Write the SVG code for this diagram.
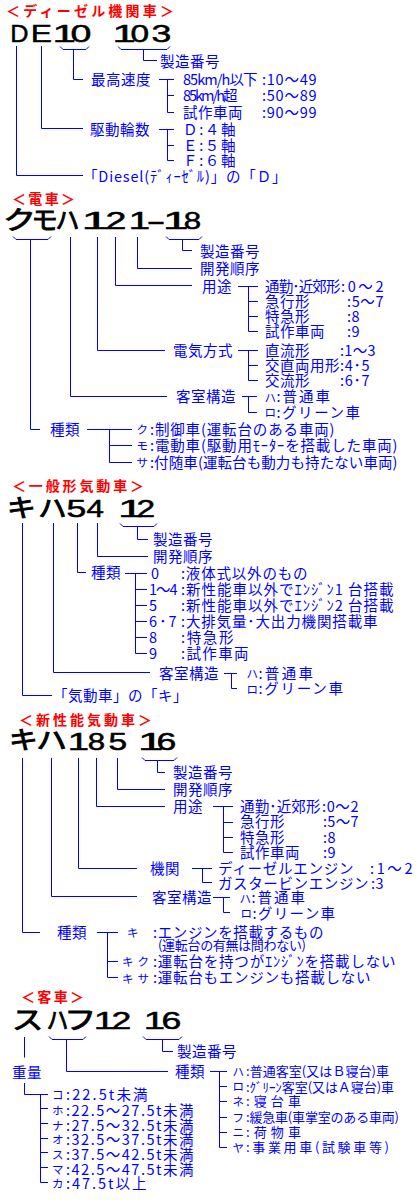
<svg xmlns="http://www.w3.org/2000/svg" width="420" height="1200" viewBox="0 0 420 1200">
<style>
.t{font-family:"Noto Sans CJK JP",sans-serif;font-size:14.5px;letter-spacing:.5px;fill:#00f}
.sm{font-size:13px;letter-spacing:0}
.key{font-size:11.5px;letter-spacing:0}
.ttl{font-family:"Noto Sans CJK JP",sans-serif;font-size:14px;font-weight:bold;fill:#f00}
.lat{font-family:"Liberation Sans",sans-serif;font-size:24px;fill:#000;stroke:#000;stroke-width:.5}
.lat2{font-family:"Liberation Sans",sans-serif;font-size:23px;fill:#000;stroke:#000;stroke-width:.5}
.kat{font-family:"Noto Sans CJK JP",sans-serif;font-size:25px;fill:#000;stroke:#000;stroke-width:.9}
.ln{fill:none;stroke:#00f;stroke-width:1}
</style>
<rect width="420" height="1200" fill="#fff"/>

<g id="connectors" class="ln">
<path d="M60,46.5 L63,49.5 H86 L89,46.5 M73.5,49.5 V79.5 H83"/>
<path d="M118,46.5 L121,49.5 H167 L170,46.5 M143.5,49.5 V60.5 H157"/>
<path d="M16.5,46 V175.5 H83"/>
<path d="M41.5,46 V128.5 H83"/>
<path d="M159,79.5 H174 M167.5,79.5 V112.5 H174 M167.5,95.5 H174"/>
<path d="M159,129.5 H174 M167.5,129.5 V160.5 H174 M167.5,145.5 H174"/>
<path d="M13,236.5 L16,239.5 H48 L51,236.5 M30.5,239.5 V429.5 H40"/>
<path d="M70.5,237 V396.5 H167"/>
<path d="M97.5,237 V350.5 H165"/>
<path d="M115.5,237 V285.5 H192"/>
<path d="M137.5,237 V268.5 H192"/>
<path d="M166,236.5 L169,239.5 H199 L202,236.5 M182.5,239.5 V250.5 H192"/>
<path d="M238,286.5 H258 M248.5,286.5 V331.5 H258 M248.5,301.5 H258 M248.5,316.5 H258"/>
<path d="M238,350.5 H258 M248.5,350.5 V380.5 H258 M248.5,365.5 H258"/>
<path d="M242,396.5 H257 M248.5,396.5 V412.5 H257"/>
<path d="M87,429.5 H132 M109.5,429.5 V462.5 H132 M109.5,445.5 H132"/>
<path d="M22.5,523 V695.5 H52"/>
<path d="M53.5,523 V672.5 H150"/>
<path d="M77.5,523 V572.5 H86"/>
<path d="M97.5,523 V556.5 H148"/>
<path d="M120,523.5 L123,526.5 H154 L157,523.5 M137.5,526.5 V539.5 H148"/>
<path d="M125,573.5 H147 M135.5,573.5 V653.5 H147 M135.5,589.5 H147 M135.5,605.5 H147 M135.5,621.5 H147 M135.5,637.5 H147"/>
<path d="M224,673.5 H237 M231.5,673.5 V688.5 H237"/>
<path d="M22.5,758 V932.5 H40"/>
<path d="M51.5,758 V896.5 H137"/>
<path d="M78.5,758 V868.5 H137"/>
<path d="M96.5,758 V806.5 H165"/>
<path d="M117.5,758 V789.5 H165"/>
<path d="M142,757.5 L145,760.5 H174 L177,757.5 M157.5,760.5 V772.5 H165"/>
<path d="M213,806.5 H233 M223.5,806.5 V852.5 H233 M223.5,822.5 H233 M223.5,837.5 H233"/>
<path d="M192,868.5 H212 M202.5,868.5 V882.5 H212"/>
<path d="M213,897.5 H230 M223.5,897.5 V912.5 H230"/>
<path d="M97,932.5 H118 M107.5,932.5 V977.5 H118 M107.5,961.5 H118"/>
<path d="M24.5,1037 V1057.5"/>
<path d="M24.5,1083 V1094.5 H48 M40.5,1094.5 V1182.5 H48 M40.5,1108.5 H48 M40.5,1123.5 H48 M40.5,1138.5 H48 M40.5,1152.5 H48 M40.5,1167.5 H48"/>
<path d="M49,1036.5 L52,1039.5 H83 L86,1036.5 M66.5,1039.5 V1071.5 H168"/>
<path d="M143,1036.5 L146,1039.5 H179 L182,1036.5 M162.5,1039.5 V1051.5 H173"/>
<path d="M210,1071.5 H227 M219.5,1071.5 V1147.5 H227 M219.5,1086.5 H227 M219.5,1101.5 H227 M219.5,1117.5 H227 M219.5,1132.5 H227"/>
</g>

<!-- ================= Section 1 ================= -->
<g id="s1-title"><text class="ttl" x="6" y="16" textLength="168" lengthAdjust="spacing">＜ディーゼル機関車＞</text></g>
<g id="s1-code">
<text class="lat" x="10.2" y="42" textLength="18.2" lengthAdjust="spacingAndGlyphs">D</text>
<text class="lat" x="30.7" y="42" textLength="21.2" lengthAdjust="spacingAndGlyphs">E</text>
<text class="lat" x="52.4" y="42" textLength="23.4" lengthAdjust="spacingAndGlyphs">1</text>
<text class="lat" x="70.4" y="42" textLength="20.9" lengthAdjust="spacingAndGlyphs">0</text>
<text class="lat" x="112.4" y="42" textLength="23.4" lengthAdjust="spacingAndGlyphs">1</text>
<text class="lat" x="130.6" y="42" textLength="18.6" lengthAdjust="spacingAndGlyphs">0</text>
<text class="lat" x="151.5" y="42" textLength="19.8" lengthAdjust="spacingAndGlyphs">3</text>
</g>
<g id="s1-serial"><text class="t" x="160" y="66.5">製造番号</text></g>
<g id="s1-speed">
<text class="t" x="91" y="84.5">最高速度</text>
<text class="t" x="183" y="84.5" textLength="75" lengthAdjust="spacing">85km/h以下</text>
<text class="t" x="262" y="84.5" textLength="55" lengthAdjust="spacing">:10〜49</text>
<text class="t" x="183" y="101" textLength="55" lengthAdjust="spacing">85km/h超</text>
<text class="t" x="262" y="101" textLength="55" lengthAdjust="spacing">:50〜89</text>
<text class="t" x="183" y="117.5">試作車両</text>
<text class="t" x="262" y="117.5" textLength="55" lengthAdjust="spacing">:90〜99</text>
</g>
<g id="s1-axles">
<text class="t" x="90" y="134.5">駆動輪数</text>
<text class="t" x="183" y="134.5" textLength="53" lengthAdjust="spacing">Ｄ:４軸</text>
<text class="t" x="183" y="150.5" textLength="53" lengthAdjust="spacing">Ｅ:５軸</text>
<text class="t" x="183" y="165.5" textLength="53" lengthAdjust="spacing">Ｆ:６軸</text>
</g>
<g id="s1-diesel"><text class="t" x="83" y="181.5" textLength="204" lengthAdjust="spacing">「Diesel(ﾃﾞｨｰｾﾞﾙ)」の「Ｄ」</text></g>

<!-- ================= Section 2 ================= -->
<g id="s2-title"><text class="ttl" x="12" y="204" textLength="63" lengthAdjust="spacing">＜電車＞</text></g>
<g id="s2-code">
<text class="kat" x="3" y="229" textLength="33" lengthAdjust="spacingAndGlyphs">ク</text>
<text class="kat" x="31.4" y="229" textLength="26.3" lengthAdjust="spacingAndGlyphs">モ</text>
<text class="kat" x="55.6" y="229" textLength="23.9" lengthAdjust="spacingAndGlyphs">ハ</text>
<text class="lat2" x="81.5" y="229" textLength="27.7" lengthAdjust="spacingAndGlyphs">1</text>
<text class="lat2" x="105.4" y="229" textLength="20.9" lengthAdjust="spacingAndGlyphs">2</text>
<text class="lat2" x="128.8" y="229" textLength="21.3" lengthAdjust="spacingAndGlyphs">1</text>
<text class="lat2" x="146.4" y="229" textLength="19" lengthAdjust="spacingAndGlyphs">-</text>
<text class="lat2" x="163" y="229" textLength="25.5" lengthAdjust="spacingAndGlyphs">1</text>
<text class="lat2" x="183.7" y="229" textLength="17.4" lengthAdjust="spacingAndGlyphs">8</text>
</g>
<g id="s2-serial"><text class="t" x="200" y="256.5">製造番号</text></g>
<g id="s2-order"><text class="t" x="200" y="273.5">開発順序</text></g>
<g id="s2-use">
<text class="t" x="202" y="291.5">用途</text>
<text class="t" x="265" y="291.5" textLength="76" lengthAdjust="spacing">通勤･近郊形</text>
<text class="t" x="341" y="291.5" textLength="43" lengthAdjust="spacing">:0〜2</text>
<text class="t" x="265" y="306.5">急行形</text>
<text class="t" x="347" y="306.5" textLength="37" lengthAdjust="spacing">:5〜7</text>
<text class="t" x="265" y="321.5">特急形</text>
<text class="t" x="347" y="321.5">:8</text>
<text class="t" x="265" y="336.5">試作車両</text>
<text class="t" x="347" y="336.5">:9</text>
</g>
<g id="s2-elec">
<text class="t" x="173" y="356">電気方式</text>
<text class="t" x="265" y="356">直流形</text>
<text class="t" x="340" y="356" textLength="36" lengthAdjust="spacing">:1〜3</text>
<text class="t" x="265" y="371">交直両用形</text>
<text class="t" x="340" y="371" textLength="30" lengthAdjust="spacing">:4･5</text>
<text class="t" x="265" y="386">交流形</text>
<text class="t" x="340" y="386" textLength="30" lengthAdjust="spacing">:6･7</text>
</g>
<g id="s2-cabin">
<text class="t" x="176" y="402">客室構造</text>
<text class="t key" x="264.5" y="401.5">ハ</text>
<text class="t" x="276.5" y="402" textLength="54" lengthAdjust="spacing">:普通車</text>
<text class="t key" x="264.5" y="417">ロ</text>
<text class="t" x="276.5" y="417.5" textLength="84" lengthAdjust="spacing">:グリーン車</text>
</g>
<g id="s2-kind">
<text class="t" x="50" y="434.5">種類</text>
<text class="t key" x="136.5" y="434">ク</text>
<text class="t" x="150" y="434.5" textLength="185" lengthAdjust="spacing">:制御車(運転台のある車両)</text>
<text class="t key" x="136.5" y="450">モ</text>
<text class="t" x="150" y="450.5" textLength="248" lengthAdjust="spacing">:電動車(駆動用ﾓｰﾀｰを搭載した車両)</text>
<text class="t key" x="136.5" y="467">サ</text>
<text class="t" x="150" y="467.5" textLength="248" lengthAdjust="spacing">:付随車(運転台も動力も持たない車両)</text>
</g>

<!-- ================= Section 3 ================= -->
<g id="s3-title"><text class="ttl" x="12" y="491" textLength="132" lengthAdjust="spacing">＜一般形気動車＞</text></g>
<g id="s3-code">
<text class="kat" x="7.1" y="517" textLength="28.8" lengthAdjust="spacingAndGlyphs">キ</text>
<text class="kat" x="38.3" y="517" textLength="28.4" lengthAdjust="spacingAndGlyphs">ハ</text>
<text class="lat" x="66.5" y="517" textLength="19.8" lengthAdjust="spacingAndGlyphs">5</text>
<text class="lat" x="86.4" y="517" textLength="17.4" lengthAdjust="spacingAndGlyphs">4</text>
<text class="lat" x="118" y="517" textLength="25.5" lengthAdjust="spacingAndGlyphs">1</text>
<text class="lat" x="136.6" y="517" textLength="18.6" lengthAdjust="spacingAndGlyphs">2</text>
</g>
<g id="s3-serial"><text class="t" x="153" y="545">製造番号</text></g>
<g id="s3-order"><text class="t" x="153" y="562">開発順序</text></g>
<g id="s3-kind">
<text class="t" x="91" y="578">種類</text>
<text class="t" x="151" y="578.5">0</text>
<text class="t" x="181" y="578.5" textLength="127" lengthAdjust="spacing">:液体式以外のもの</text>
<text class="t" x="149" y="594.5" textLength="29" lengthAdjust="spacing">1〜4</text>
<text class="t" x="181" y="594.5" textLength="213" lengthAdjust="spacing">:新性能車以外でｴﾝｼﾞﾝ1 台搭載</text>
<text class="t" x="149" y="610.5">5</text>
<text class="t" x="181" y="610.5" textLength="213" lengthAdjust="spacing">:新性能車以外でｴﾝｼﾞﾝ2 台搭載</text>
<text class="t" x="149" y="627" textLength="28" lengthAdjust="spacing">6･7</text>
<text class="t" x="181" y="627" textLength="197" lengthAdjust="spacing">:大排気量･大出力機関搭載車</text>
<text class="t" x="149" y="643">8</text>
<text class="t" x="181" y="643" textLength="53" lengthAdjust="spacing">:特急形</text>
<text class="t" x="149" y="659">9</text>
<text class="t" x="181" y="659" textLength="68" lengthAdjust="spacing">:試作車両</text>
</g>
<g id="s3-cabin">
<text class="t" x="159" y="678.5">客室構造</text>
<text class="t key" x="246.5" y="678">ハ</text>
<text class="t" x="258.5" y="678.5" textLength="55" lengthAdjust="spacing">:普通車</text>
<text class="t key" x="246.5" y="693.5">ロ</text>
<text class="t" x="258.5" y="694" textLength="85" lengthAdjust="spacing">:グリーン車</text>
</g>
<g id="s3-ki"><text class="t" x="53" y="701">「気動車」の「キ」</text></g>

<!-- ================= Section 4 ================= -->
<g id="s4-title"><text class="ttl" x="19" y="725" textLength="133" lengthAdjust="spacing">＜新性能気動車＞</text></g>
<g id="s4-code">
<text class="kat" x="9.1" y="749" textLength="28.8" lengthAdjust="spacingAndGlyphs">キ</text>
<text class="kat" x="36.2" y="749" textLength="30.7" lengthAdjust="spacingAndGlyphs">ハ</text>
<text class="lat" x="67.8" y="750" textLength="21.3" lengthAdjust="spacingAndGlyphs">1</text>
<text class="lat" x="87.7" y="750" textLength="17.4" lengthAdjust="spacingAndGlyphs">8</text>
<text class="lat" x="108.6" y="750" textLength="18.6" lengthAdjust="spacingAndGlyphs">5</text>
<text class="lat" x="138" y="750" textLength="25.5" lengthAdjust="spacingAndGlyphs">1</text>
<text class="lat" x="156.5" y="750" textLength="19.8" lengthAdjust="spacingAndGlyphs">6</text>
</g>
<g id="s4-serial"><text class="t" x="173" y="777.5">製造番号</text></g>
<g id="s4-order"><text class="t" x="173" y="794.5">開発順序</text></g>
<g id="s4-use">
<text class="t" x="173" y="812">用途</text>
<text class="t" x="240" y="812" textLength="81" lengthAdjust="spacing">通勤･近郊形</text>
<text class="t" x="322" y="812" textLength="37" lengthAdjust="spacing">:0〜2</text>
<text class="t" x="240" y="826.5">急行形</text>
<text class="t" x="323" y="826.5" textLength="36" lengthAdjust="spacing">:5〜7</text>
<text class="t" x="240" y="842.5">特急形</text>
<text class="t" x="323" y="842.5">:8</text>
<text class="t" x="240" y="857.5">試作車両</text>
<text class="t" x="323" y="857.5">:9</text>
</g>
<g id="s4-engine">
<text class="t" x="150" y="873.5">機関</text>
<text class="t" x="218" y="873.5" textLength="136" lengthAdjust="spacing">ディーゼルエンジン</text>
<text class="t" x="370" y="873.5" textLength="43" lengthAdjust="spacing">:1〜2</text>
<text class="t" x="218" y="888.5" textLength="151" lengthAdjust="spacing">ガスタービンエンジン</text>
<text class="t" x="371" y="888.5">:3</text>
</g>
<g id="s4-cabin">
<text class="t" x="152" y="903">客室構造</text>
<text class="t key" x="239.5" y="902.5">ハ</text>
<text class="t" x="251.5" y="903" textLength="54" lengthAdjust="spacing">:普通車</text>
<text class="t key" x="240.5" y="918">ロ</text>
<text class="t" x="252.5" y="918.5" textLength="83" lengthAdjust="spacing">:グリーン車</text>
</g>
<g id="s4-kind">
<text class="t" x="57" y="937.5">種類</text>
<text class="t key" x="127" y="937">キ</text>
<text class="t" x="153" y="937.5" textLength="171" lengthAdjust="spacing">:エンジンを搭載するもの</text>
<text class="t sm" x="158" y="950" textLength="148" lengthAdjust="spacing">(運転台の有無は問わない)</text>
<text class="t key" x="122" y="966" textLength="27" lengthAdjust="spacing">キク</text>
<text class="t" x="153" y="966.5" textLength="243" lengthAdjust="spacing">:運転台を持つがｴﾝｼﾞﾝを搭載しない</text>
<text class="t key" x="122" y="982.5" textLength="27" lengthAdjust="spacing">キサ</text>
<text class="t" x="153" y="983" textLength="218" lengthAdjust="spacing">:運転台もエンジンも搭載しない</text>
</g>

<!-- ================= Section 5 ================= -->
<g id="s5-title"><text class="ttl" x="21" y="1002" textLength="63" lengthAdjust="spacing">＜客車＞</text></g>
<g id="s5-code">
<text class="kat" x="11.9" y="1029" textLength="31.3" lengthAdjust="spacingAndGlyphs">ス</text>
<text class="kat" x="46.7" y="1029" textLength="21.6" lengthAdjust="spacingAndGlyphs">ハ</text>
<text class="kat" x="64.2" y="1029" textLength="32" lengthAdjust="spacingAndGlyphs">フ</text>
<text class="lat" x="93.8" y="1029" textLength="21.3" lengthAdjust="spacingAndGlyphs">1</text>
<text class="lat" x="111.5" y="1029" textLength="19.8" lengthAdjust="spacingAndGlyphs">2</text>
<text class="lat" x="143.8" y="1029" textLength="21.3" lengthAdjust="spacingAndGlyphs">1</text>
<text class="lat" x="161.5" y="1029" textLength="19.8" lengthAdjust="spacingAndGlyphs">6</text>
</g>
<g id="s5-serial"><text class="t" x="177" y="1056.5">製造番号</text></g>
<g id="s5-weight">
<text class="t" x="12" y="1077.5">重量</text>
<text class="t key" x="52" y="1099">コ</text>
<text class="t" x="66" y="1099.5" textLength="82" lengthAdjust="spacing">:22.5t未満</text>
<text class="t key" x="52" y="1115">ホ</text>
<text class="t" x="66" y="1115.5" textLength="128" lengthAdjust="spacing">:22.5〜27.5t未満</text>
<text class="t key" x="52" y="1130">ナ</text>
<text class="t" x="66" y="1130.5" textLength="128" lengthAdjust="spacing">:27.5〜32.5t未満</text>
<text class="t key" x="52" y="1144">オ</text>
<text class="t" x="66" y="1144.5" textLength="128" lengthAdjust="spacing">:32.5〜37.5t未満</text>
<text class="t key" x="52" y="1159">ス</text>
<text class="t" x="66" y="1159.5" textLength="128" lengthAdjust="spacing">:37.5〜42.5t未満</text>
<text class="t key" x="52" y="1174">マ</text>
<text class="t" x="66" y="1174.5" textLength="128" lengthAdjust="spacing">:42.5〜47.5t未満</text>
<text class="t key" x="52" y="1188">カ</text>
<text class="t" x="66" y="1188.5" textLength="81" lengthAdjust="spacing">:47.5t以上</text>
</g>
<g id="s5-kind">
<text class="t" x="175" y="1076.5">種類</text>
<text class="t key" x="232.5" y="1075.5">ハ</text>
<text class="t sm" x="246" y="1076" textLength="143" lengthAdjust="spacing">:普通客室(又はＢ寝台)車</text>
<text class="t key" x="232.5" y="1091">ロ</text>
<text class="t sm" x="246" y="1091.5" textLength="148" lengthAdjust="spacing">:ｸﾞﾘｰﾝ客室(又はＡ寝台)車</text>
<text class="t key" x="232.5" y="1105.5">ネ</text>
<text class="t sm" x="246" y="1106" textLength="55" lengthAdjust="spacing">:寝台車</text>
<text class="t key" x="232.5" y="1121.5">フ</text>
<text class="t sm" x="246" y="1122" textLength="153" lengthAdjust="spacing">:緩急車(車掌室のある車両)</text>
<text class="t key" x="232.5" y="1136.5">ニ</text>
<text class="t sm" x="246" y="1137" textLength="55" lengthAdjust="spacing">:荷物車</text>
<text class="t key" x="232.5" y="1151.5">ヤ</text>
<text class="t sm" x="246" y="1152" textLength="143" lengthAdjust="spacing">:事業用車(試験車等)</text>
</g>
</svg>
